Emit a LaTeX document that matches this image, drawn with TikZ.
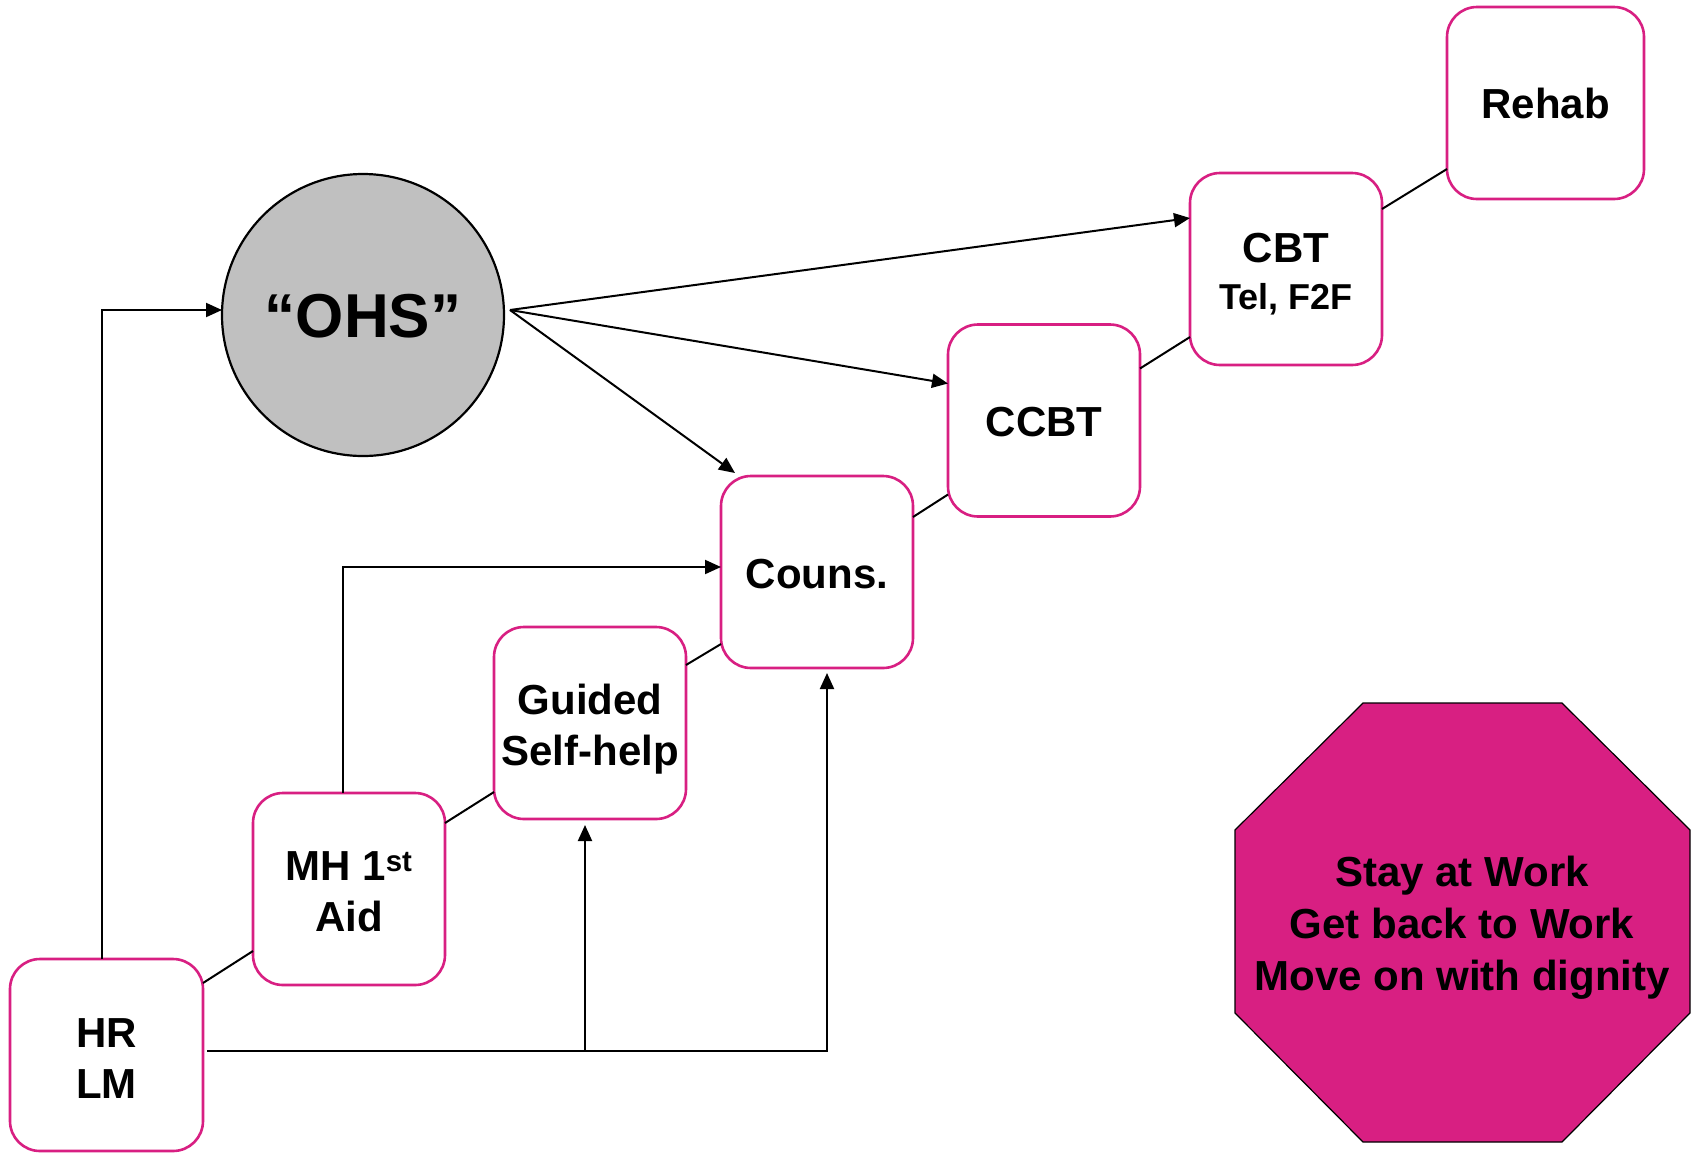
\documentclass[tikz,border=0pt]{standalone}
\usepackage{fontspec}
\setmainfont{Liberation Sans}
\usetikzlibrary{arrows.meta,calc}
\definecolor{pinkline}{RGB}{216,31,130}
\definecolor{octfill}{RGB}{216,31,130}
\definecolor{ohsgray}{RGB}{192,192,192}
\tikzset{
  stagebox/.style={draw=pinkline, line width=2.6pt, rounded corners=30pt, fill=white,
    minimum width=192pt, minimum height=192pt, inner sep=0pt, outer sep=0pt},
  stagetext/.style={align=center, inner sep=0pt, font=\bfseries\fontsize{42}{51}\selectfont},
  link/.style={line width=2pt, black},
  arr/.style={line width=2pt, black, -{Triangle[length=16pt,width=14pt]}},
}
\begin{document}
\begin{tikzpicture}[x=1pt,y=-1pt]
\useasboundingbox (0,0) rectangle (1695,1152);

% boxes
\node[stagebox, minimum width=193pt] (hr) at (106.5,1055) {};
\node[stagebox] (mh) at (349,889) {};
\node[stagebox] (guided) at (590,723) {};
\node[stagebox] (couns) at (817,572) {};
\node[stagebox] (ccbt) at (1044,420.5) {};
\node[stagebox] (cbt) at (1286,269) {};
\node[stagebox, minimum width=197pt] (rehab) at (1545.5,103) {};

% box texts
\node[stagetext] (hrtext) at ([yshift=-4pt]hr.center) {HR\\LM};
\node[stagetext] (mhtext) at ([yshift=-3pt]mh.center) {MH 1\textsuperscript{st}\\Aid};
\node[stagetext] (guidedtext) at ([yshift=-6pt]guided.center) {Guided\\Self-help};
\node[stagetext] (counstext) at ([yshift=-2pt]couns.center) {Couns.};
\node[stagetext] (ccbttext) at ([yshift=-2pt]ccbt.center) {CCBT};
\node[stagetext] (cbttext) at ([yshift=-5pt]cbt.center) {CBT\\[-4pt]{\fontsize{36}{43}\selectfont Tel, F2F}};
\node[stagetext] (rehabtext) at (rehab.center) {Rehab};

\node[circle, draw=black, line width=2.2pt, fill=ohsgray, minimum size=282pt, inner sep=0pt, outer sep=0pt,
  font=\bfseries\fontsize{62}{70}\selectfont] (ohs) at (363,315) {};
\node[inner sep=0pt, font=\bfseries\fontsize{62}{70}\selectfont] (ohstext) at ([yshift=-1pt]ohs.center) {“OHS”};

% octagon goal
\draw[fill=octfill, draw=black, line width=1.2pt]
  (1363,703) -- (1562,703) -- (1690,830) -- (1690,1013) -- (1562,1142)
  -- (1363,1142) -- (1235,1013) -- (1235,830) -- cycle;
\node[align=center, inner sep=0pt, font=\bfseries\fontsize{42}{52}\selectfont] (goal) at (1462,928)
  {Stay at Work\\Get back to Work\\Move on with dignity};

% staircase links
\draw[link] ($(hr.north east)+(0,24)$) -- ($(mh.south west)+(0,-34)$);
\draw[link] ($(mh.north east)+(0,30)$) -- ($(guided.south west)+(0,-27)$);
\draw[link] ($(guided.north east)+(0,38)$) -- ($(couns.south west)+(0,-24)$);
\draw[link] ($(couns.north east)+(0,41)$) -- ($(ccbt.south west)+(0,-22)$);
\draw[link] ($(ccbt.north east)+(0,44)$) -- ($(cbt.south west)+(0,-28)$);
\draw[link] ($(cbt.north east)+(0,36)$) -- ($(rehab.south west)+(0,-30)$);

% HR to OHS
\draw[arr] ($(hr.north)+(-5,0)$) |- ($(ohs.west)+(0,-5)$);

% OHS fan
\coordinate (ohsout) at ($(ohs.east)+(6,-5)$);
\draw[arr] (ohsout) -- ($(cbt.west)+(0,-51)$);
\draw[arr] (ohsout) -- ($(ccbt.west)+(0,-37)$);
\draw[arr] (ohsout) -- ($(couns.north west)+(14,-3)$);

% MH to Couns
\draw[arr] ($(mh.north)+(-6,0)$) |- ($(couns.west)+(0,-5)$);

% HR bottom line
\coordinate (hrout) at ($(hr.east)+(4,-4)$);
\draw[arr, shorten >=5pt] (hrout) -| ($(couns.south)+(10,0)$);
\draw[arr, shorten >=6pt] ($(hrout -| guided.south)+(-5,0)$) -- ($(guided.south)+(-5,0)$);
\end{tikzpicture}
\end{document}
